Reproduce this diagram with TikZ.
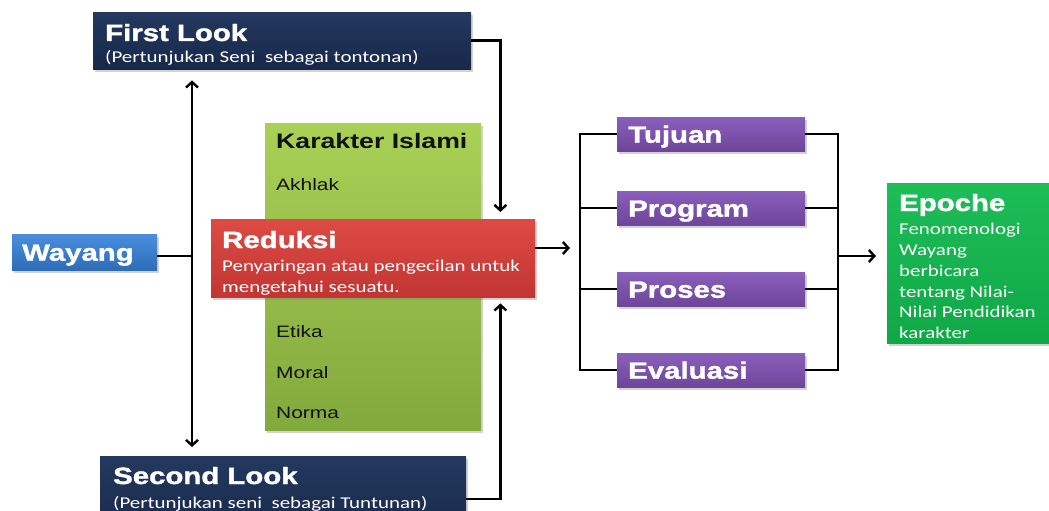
\documentclass[tikz,border=0pt]{standalone}
\usepackage{fontspec}
\setmainfont{Liberation Sans}[FakeStretch=1.27]
\newfontfamily\headfont{Liberation Sans Bold}[FakeStretch=1.25,FakeBold=1.6]
\newfontfamily\calfont{Carlito}[FakeStretch=1.27]
\usetikzlibrary{arrows.meta,positioning,calc,shadows}
\definecolor{NavyTop}{HTML}{24395F}
\definecolor{NavyBot}{HTML}{17284A}
\definecolor{SkyTop}{HTML}{4A8FDE}
\definecolor{SkyBot}{HTML}{2E6CB9}
\definecolor{LeafTop}{HTML}{A9D156}
\definecolor{LeafBot}{HTML}{82A93C}
\definecolor{BrickTop}{HTML}{DE4B45}
\definecolor{BrickBot}{HTML}{C13532}
\definecolor{PlumTop}{HTML}{8A5FBC}
\definecolor{PlumBot}{HTML}{6D4599}
\definecolor{MintTop}{HTML}{1DBD58}
\definecolor{MintBot}{HTML}{0FA846}
\definecolor{Ink}{HTML}{111111}
\tikzset{
  panel/.style={anchor=north west,inner sep=0pt,drop shadow={opacity=0.35,shadow xshift=1.5pt,shadow yshift=-2.5pt}},
  navybox/.style={panel,top color=NavyTop,bottom color=NavyBot},
  leafbox/.style={panel,top color=LeafTop,bottom color=LeafBot},
  brickbox/.style={panel,top color=BrickTop,bottom color=BrickBot},
  mintbox/.style={panel,top color=MintTop,bottom color=MintBot},
  skybox/.style={panel,top color=SkyTop,bottom color=SkyBot,minimum width=145pt,minimum height=36pt,
    text width=125pt,inner xsep=10pt,align=left,text height=17pt,text depth=0pt,text=white,
    font=\headfont\fontsize{23.5}{26}\selectfont},
  plumbox/.style={panel,top color=PlumTop,bottom color=PlumBot,minimum width=188pt,minimum height=34pt,
    text width=166pt,inner xsep=11pt,align=left,text height=17pt,text depth=0pt,text=white,
    font=\headfont\fontsize{23.5}{26}\selectfont},
  headtext/.style={anchor=base west,inner sep=0pt,text=white,font=\headfont\fontsize{23.5}{26}\selectfont},
  bodytext/.style={anchor=base west,inner sep=0pt,text=white,font=\calfont\fontsize{16.5}{20.8}\selectfont},
  blocktext/.style={anchor=north west,inner sep=0pt,align=left,text=white,font=\calfont\fontsize{16.5}{20.8}\selectfont},
  itemtext/.style={anchor=base west,inner sep=0pt,text=Ink,font=\fontsize{16.5}{20}\selectfont},
  conn/.style={draw=black,line width=2.4pt},
  arr/.style={conn,-{Straight Barb[length=5.5pt,width=12pt]}}
}
\begin{document}
\begin{tikzpicture}[x=1pt,y=-1pt]
  \clip (0,0) rectangle (1049,511);
  % boxes
  \node[navybox,minimum width=378pt,minimum height=57pt] (first) at (93,12) {};
  \node[navybox,minimum width=366pt,minimum height=82pt] (second) at (100,456) {};
  \node[skybox] (wayang) at (12,234) {Wayang};
  \node[leafbox,minimum width=216pt,minimum height=307pt] (karakter) at (265,123) {};
  \node[brickbox,minimum width=324pt,minimum height=78pt] (reduksi) at (211,219) {};
  \node[plumbox] (tujuan) at (617,117) {Tujuan};
  \node[plumbox] (program) at (617,191) {Program};
  \node[plumbox] (proses) at (617,272) {Proses};
  \node[plumbox] (evaluasi) at (617,353) {Evaluasi};
  \node[mintbox,minimum width=175pt,minimum height=160pt] (epoche) at (887,183) {};
  % texts
  \node[headtext] (firstT) at (105,41) {First Look};
  \node[bodytext] (firstS) at (105,63) {(Pertunjukan Seni\ \ sebagai tontonan)};
  \node[headtext] (secondT) at (113,484) {Second Look};
  \node[bodytext] (secondS) at (113,508) {(Pertunjukan seni\ \ sebagai Tuntunan)};
  \node[headtext,text=Ink,font=\fontsize{21}{24}\selectfont\bfseries] (karakterT) at (276,148) {Karakter Islami};
  \node[itemtext] (akhlak) at (276,190) {Akhlak};
  \node[itemtext] (etika) at (276,337) {Etika};
  \node[itemtext] (moral) at (276,378) {Moral};
  \node[itemtext] (norma) at (276,418) {Norma};
  \node[headtext] (reduksiT) at (222,248) {Reduksi};
  \node[blocktext] (reduksiS) at (222,260) {Penyaringan atau pengecilan untuk\\mengetahui sesuatu.};
  \node[headtext] (epocheT) at (899,211) {Epoche};
  \node[blocktext] (epocheS) at (899,223) {Fenomenologi\\Wayang\\berbicara\\tentang Nilai-\\Nilai Pendidikan\\karakter};
  % connectors
  \coordinate (trunk) at (192,256);
  \coordinate (lbr) at (580,248);
  \coordinate (rbr) at (838,256);
  \draw[conn] (wayang.east |- trunk) -- (trunk);
  \draw[arr,shorten >=11pt] (trunk) -- (first.south -| trunk);
  \draw[arr,shorten >=9pt] (trunk) -- (second.north -| trunk);
  \draw[arr,shorten >=7pt] (first.east) -| ($(reduksi.north east)+(-35,0)$);
  \draw[arr,shorten >=6pt] ([yshift=-2pt]second.east) -| ($(reduksi.south east)+(-35,0)$);
  \draw[arr,shorten >=10pt] (reduksi.east |- lbr) -- (lbr);
  \draw[conn] (tujuan.west) -| (lbr) |- (evaluasi.west);
  \draw[conn] (program.west) -- (program.west -| lbr);
  \draw[conn] (proses.west) -- (proses.west -| lbr);
  \draw[conn] (tujuan.east) -| (rbr) |- (evaluasi.east);
  \draw[conn] (program.east) -- (program.east -| rbr);
  \draw[conn] (proses.east) -- (proses.east -| rbr);
  \draw[arr,shorten >=11pt] (rbr) -- (epoche.west |- rbr);
\end{tikzpicture}
\end{document}
